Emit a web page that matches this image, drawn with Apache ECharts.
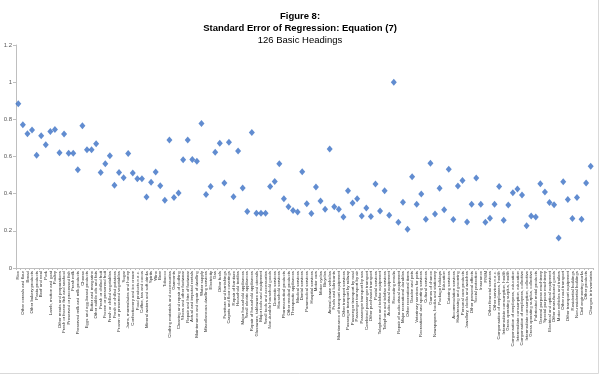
<!DOCTYPE html>
<html><head><meta charset="utf-8">
<script src="https://cdn.jsdelivr.net/npm/echarts@6/dist/echarts.min.js"></script>
<style>html,body{margin:0;padding:0;background:#fff}#c{width:600px;height:374px}</style>
</head><body><div id="c"></div>
<script>
var titleLines = ['Figure 8:', 'Standard Error of Regression: Equation (7)', '126 Basic Headings'];
var yTicks = {min: 0, max: 1.2, interval: 0.2};
var categories = [
'Rice','Other cereals and flour','Bread','Other bakery products','Pasta products','Beef and veal','Pork','Lamb, mutton and goat','Poultry','Other meats and preparations',
'Fresh or frozen fish and seafood','Preserved or processed fish','Fresh milk','Preserved milk and milk products','Cheese','Eggs and egg-based products','Butter and margarine','Other edible oils and fats','Fresh or chilled fruit','Frozen or preserved fruit',
'Fresh or chilled vegetables','Fresh or chilled potatoes','Frozen or preserved vegetables','Sugar','Jams, marmalades and honey','Confectionery and ice cream','Food products n.e.c.','Coffee, tea and cocoa','Mineral waters and soft drinks','Spirits',
'Wine','Beer','Tobacco','Clothing materials and accessories','Garments','Cleaning and repair of clothing','Shoes and other footwear','Repair and hire of footwear','Actual and imputed rentals','Maintenance and repair of dwelling',
'Water supply','Miscellaneous dwelling services','Electricity','Gas','Other fuels','Furniture and furnishings','Carpets and floor coverings','Repair of furniture','Household textiles','Major household appliances',
'Small electric appliances','Repair of household appliances','Glassware, tableware and utensils','Major tools and equipment','Small tools and accessories','Non-durable household goods','Domestic services','Household services','Pharmaceutical products','Other medical products',
'Therapeutic appliances','Medical services','Dental services','Paramedical services','Hospital services','Motor cars','Motor cycles','Bicycles','Animal drawn vehicles','Fuels and lubricants',
'Maintenance of transport equipment','Other transport services','Passenger transport by railway','Passenger transport by road','Passenger transport by air','Passenger transport by sea','Combined passenger transport','Other purchased transport','Postal services','Telephone and telefax equipment',
'Telephone and telefax services','Audio-visual equipment','Recording media','Repair of audio-visual equipment','Major recreational durables','Other recreational items','Garden and pets','Veterinary services for pets','Recreational and sporting services','Cultural services',
'Games of chance','Newspapers, books and stationery','Package holidays','Education','Catering services','Accommodation services','Hairdressing and grooming','Personal care products','Jewellery, clocks and watches','Other personal effects',
'Social protection','Insurance','FISIM','Other financial services','Other services n.e.c.','Compensation of employees, health','Intermediate consumption, health','Gross operating surplus, health','Compensation of employees, education','Intermediate consumption, education',
'Compensation of employees, collective','Intermediate consumption, collective','Gross operating surplus, collective','Fabricated metal products','General purpose machinery','Special purpose machinery','Electrical and optical equipment','Other manufactured goods','Motor vehicles and trailers','Other road transport',
'Other transport equipment','Residential buildings','Non-residential buildings','Civil engineering works','Other products','Changes in inventories'
];
var seValues = [
0.884,0.771,0.723,0.743,0.607,0.711,0.663,0.734,0.745,0.620,
0.721,0.618,0.618,0.529,0.766,0.636,0.636,0.668,0.514,0.561,
0.604,0.445,0.514,0.486,0.616,0.511,0.480,0.480,0.382,0.461,
0.516,0.443,0.364,0.689,0.379,0.404,0.582,0.689,0.584,0.575,
0.777,0.395,0.438,0.623,0.671,0.457,0.677,0.384,0.629,0.430,
0.304,0.729,0.295,0.295,0.295,0.438,0.466,0.561,0.373,0.329,
0.309,0.302,0.518,0.346,0.293,0.436,0.361,0.316,0.641,0.329,
0.316,0.275,0.416,0.350,0.373,0.280,0.323,0.277,0.452,0.307,
0.416,0.284,1.000,0.246,0.354,0.209,0.491,0.343,0.398,0.263,
0.564,0.291,0.429,0.313,0.532,0.261,0.441,0.471,0.248,0.343,
0.484,0.343,0.246,0.268,0.343,0.439,0.257,0.339,0.405,0.425,
0.393,0.227,0.280,0.275,0.454,0.409,0.352,0.341,0.161,0.464,
0.368,0.266,0.380,0.263,0.457,0.548
];

var chart = echarts.init(document.getElementById('c'), null, {renderer: 'canvas'});
var fam = '"Liberation Sans",Arial,sans-serif';
chart.setOption({
  animation: false,
  backgroundColor: '#fff',
  title: [
    {text: titleLines[0], left: 'center', top: 6, textStyle: {fontFamily: fam, fontSize: 9.5, fontWeight: 'bold', color: '#000'}},
    {text: titleLines[1], left: 'center', top: 18, textStyle: {fontFamily: fam, fontSize: 9.5, fontWeight: 'bold', color: '#000'}},
    {text: titleLines[2], left: 'center', top: 30, textStyle: {fontFamily: fam, fontSize: 9.5, fontWeight: 'normal', color: '#000'}}
  ],
  grid: {left: 16, right: 7, top: 45, bottom: 106, containLabel: false},
  xAxis: {
    type: 'category', data: categories, boundaryGap: true,
    axisLine: {lineStyle: {color: '#bfbfbf', width: 1}},
    axisTick: {show: true, interval: 0, length: 2, lineStyle: {color: '#bfbfbf'}},
    axisLabel: {interval: 0, rotate: 90, fontSize: 4.3, color: '#333', margin: 3, fontFamily: fam}
  },
  yAxis: {
    type: 'value', min: yTicks.min, max: yTicks.max, interval: yTicks.interval,
    axisLine: {show: true, lineStyle: {color: '#bfbfbf', width: 1}},
    axisTick: {show: true, length: 3, lineStyle: {color: '#bfbfbf'}},
    splitLine: {show: false},
    axisLabel: {fontSize: 6, color: '#595959', margin: 4, fontFamily: fam}
  },
  series: [{
    type: 'scatter', data: seValues, symbol: 'diamond', symbolSize: [6, 7],
    itemStyle: {color: '#3a6fc4'}
  }],
  graphic: [
    {type: 'line', shape: {x1: 598.5, y1: 0, x2: 598.5, y2: 373.5}, style: {stroke: '#d9d9d9', lineWidth: 1}},
    {type: 'line', shape: {x1: 0, y1: 373.5, x2: 598.5, y2: 373.5}, style: {stroke: '#d9d9d9', lineWidth: 1}}
  ]
});
</script></body></html>
